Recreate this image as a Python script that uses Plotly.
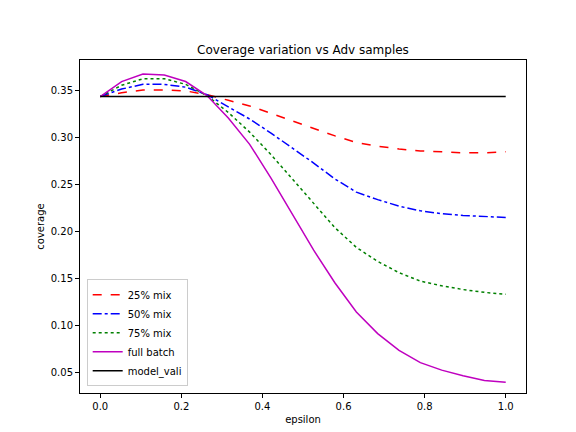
import plotly.graph_objects as go

eps = [i / 19 for i in range(20)]
mix25 = [0.344, 0.348, 0.351, 0.351, 0.350, 0.346, 0.340, 0.334, 0.326, 0.318,
         0.310, 0.302, 0.295, 0.291, 0.288, 0.286, 0.285, 0.284, 0.284, 0.285]
mix50 = [0.344, 0.352, 0.357, 0.357, 0.354, 0.346, 0.333, 0.320, 0.305, 0.289,
         0.273, 0.256, 0.242, 0.234, 0.227, 0.222, 0.219, 0.217, 0.216, 0.215]
mix75 = [0.344, 0.356, 0.363, 0.363, 0.357, 0.345, 0.327, 0.306, 0.282, 0.256,
         0.229, 0.204, 0.183, 0.168, 0.156, 0.147, 0.142, 0.138, 0.135, 0.133]
full = [0.344, 0.360, 0.368, 0.367, 0.360, 0.345, 0.321, 0.293, 0.257, 0.218,
        0.180, 0.145, 0.114, 0.091, 0.073, 0.060, 0.052, 0.046, 0.041, 0.039]
vali = [0.344] * 20

series = [("25% mix", mix25, "red", "dash"),
          ("50% mix", mix50, "blue", "dashdot"),
          ("75% mix", mix75, "green", "dot"),
          ("full batch", full, "#bf00bf", "solid"),
          ("model_vali", vali, "black", "solid")]

fig = go.Figure()
for name, ys, col, dash in series:
    fig.add_trace(go.Scatter(x=eps, y=ys, mode="lines", name=name,
                             line=dict(color=col, dash=dash, width=1.5)))

ax = dict(showgrid=False, zeroline=False, showline=True, mirror=True,
          linecolor="black", ticks="outside", ticklen=4, tickcolor="black",
          automargin=False)
fig.update_layout(
    width=576, height=432, plot_bgcolor="white", paper_bgcolor="white",
    font=dict(family="DejaVu Sans", size=10, color="black"),
    title=dict(text="Coverage variation vs Adv samples", x=0.5, xref="paper",
               y=(432 - 42) / 432, yanchor="middle", font=dict(size=12)),
    margin=dict(l=72, r=58, t=52, b=47, autoexpand=False),
    xaxis=dict(ax, title=dict(text="epsilon", standoff=4, font=dict(size=10)),
               range=[-0.05, 1.05],
               tickvals=[0, 0.2, 0.4, 0.6, 0.8, 1.0],
               ticktext=["0.0", "0.2", "0.4", "0.6", "0.8", "1.0"]),
    yaxis=dict(ax, title=dict(text="coverage", standoff=4, font=dict(size=10)),
               range=[0.0276, 0.383],
               tickvals=[0.05, 0.10, 0.15, 0.20, 0.25, 0.30, 0.35],
               ticktext=["0.05", "0.10", "0.15", "0.20", "0.25", "0.30", "0.35"]),
    legend=dict(x=0.015, y=0.02, xanchor="left", yanchor="bottom",
                bordercolor="#cccccc", borderwidth=1, bgcolor="white"),
)
fig.write_html("out.html")
